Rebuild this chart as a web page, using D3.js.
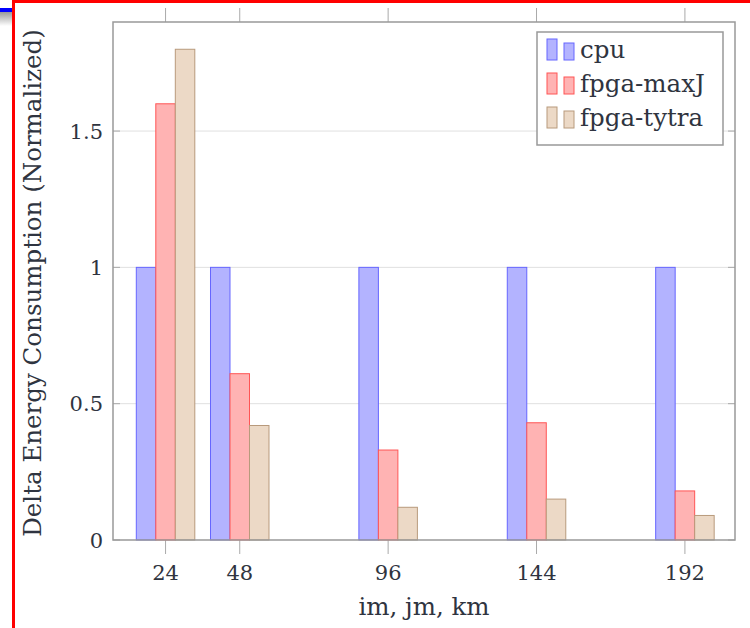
<!DOCTYPE html>
<html>
<head>
<meta charset="utf-8">
<script src="https://cdn.jsdelivr.net/npm/d3@7"></script>
<style>
  body { margin: 0; background: #fff; }
  text { font-family: "DejaVu Serif", serif; fill: #2f3440; }
</style>
</head>
<body>
<script>
// data
const sizes = [24, 48, 96, 144, 192];
const cpu = [1, 1, 1, 1, 1];
const maxJ = [1.6, 0.61, 0.33, 0.43, 0.18];
const tytra = [1.8, 0.42, 0.12, 0.15, 0.09];
const seriesNames = ["cpu", "fpga-maxJ", "fpga-tytra"];
const yTicks = [0, 0.5, 1, 1.5];
const yTickLabels = ["0", "0.5", "1", "1.5"];

const width = 750, height = 628;
const margin = {top: 22, right: 15, bottom: 88, left: 113};

const svg = d3.select("body").append("svg")
  .attr("width", width)
  .attr("height", height);

// screenshot border bits
svg.append("rect").attr("x", 12).attr("y", 0).attr("width", 3).attr("height", height).attr("fill", "#f00");
svg.append("rect").attr("x", 12).attr("y", 0).attr("width", width - 12).attr("height", 3).attr("fill", "#f00");
const grad = svg.append("defs").append("linearGradient").attr("id", "shade")
  .attr("x1", 0).attr("y1", 0).attr("x2", 0).attr("y2", 1);
grad.append("stop").attr("offset", 0).attr("stop-color", "#999");
grad.append("stop").attr("offset", 1).attr("stop-color", "#fff");
svg.append("rect").attr("x", 0).attr("y", 12).attr("width", 12).attr("height", 14).attr("fill", "url(#shade)");
svg.append("rect").attr("x", 0).attr("y", 8).attr("width", 12).attr("height", 4).attr("fill", "#00f");

const x = d3.scaleLinear()
  .domain([7, 208.2])
  .range([margin.left, width - margin.right]);

const y = d3.scaleLinear()
  .domain([0, 1.9])
  .range([height - margin.bottom, margin.top]);

const barW = 19.5;
const colors = [
  {fill: "#b3b3ff", stroke: "#6666ff"},
  {fill: "#ffb3b3", stroke: "#ff5555"},
  {fill: "#ecd9c6", stroke: "#b89a7c"}
];
const allSeries = [cpu, maxJ, tytra];

// grid
svg.append("g")
  .selectAll("line")
  .data(yTicks.slice(1))
  .join("line")
  .attr("x1", margin.left).attr("x2", width - margin.right)
  .attr("y1", d => y(d)).attr("y2", d => y(d))
  .attr("stroke", "#e0e0e0").attr("stroke-width", 1);

// y ticks inside both sides
const yt = svg.append("g");
yt.selectAll(".tl").data(yTicks).join("line")
  .attr("x1", margin.left).attr("x2", margin.left + 7)
  .attr("y1", d => y(d)).attr("y2", d => y(d))
  .attr("stroke", "#aaa");
yt.selectAll(".tr").data(yTicks).join("line")
  .attr("x1", width - margin.right - 7).attr("x2", width - margin.right)
  .attr("y1", d => y(d)).attr("y2", d => y(d))
  .attr("stroke", "#aaa");
yt.selectAll("text").data(yTicks).join("text")
  .attr("x", margin.left - 10)
  .attr("y", d => y(d))
  .attr("dy", "0.36em")
  .attr("text-anchor", "end")
  .attr("font-size", 21)
  .text((d, i) => yTickLabels[i]);

// x ticks outside top and bottom
const xt = svg.append("g");
xt.selectAll(".b").data(sizes).join("line")
  .attr("x1", d => x(d)).attr("x2", d => x(d))
  .attr("y1", y(0)).attr("y2", y(0) + 14)
  .attr("stroke", "#aaa");
xt.selectAll(".t").data(sizes).join("line")
  .attr("x1", d => x(d)).attr("x2", d => x(d))
  .attr("y1", margin.top - 14).attr("y2", margin.top)
  .attr("stroke", "#aaa");
xt.selectAll("text").data(sizes).join("text")
  .attr("x", d => x(d))
  .attr("y", y(0) + 40)
  .attr("text-anchor", "middle")
  .attr("font-size", 21)
  .text(d => d);

// bars
allSeries.forEach(function(vals, s) {
  svg.append("g")
    .selectAll("rect")
    .data(vals)
    .join("rect")
    .attr("x", (d, i) => x(sizes[i]) + (s - 1) * barW - barW / 2)
    .attr("y", d => y(d))
    .attr("width", barW)
    .attr("height", d => y(0) - y(d))
    .attr("fill", colors[s].fill)
    .attr("stroke", colors[s].stroke)
    .attr("stroke-width", 1);
});

// frame
svg.append("rect")
  .attr("x", margin.left).attr("y", margin.top)
  .attr("width", width - margin.right - margin.left)
  .attr("height", y(0) - margin.top)
  .attr("fill", "none")
  .attr("stroke", "#999")
  .attr("stroke-width", 1.5);

// axis labels
svg.append("text")
  .attr("x", (margin.left + width - margin.right) / 2)
  .attr("y", 615)
  .attr("text-anchor", "middle")
  .attr("font-size", 24.5)
  .text("im, jm, km");

svg.append("text")
  .attr("transform", "translate(41," + ((margin.top + y(0)) / 2 + 2) + ") rotate(-90)")
  .attr("text-anchor", "middle")
  .attr("font-size", 24.5)
  .text("Delta Energy Consumption (Normalized)");

// legend
const lg = svg.append("g").attr("transform", "translate(537,32)");
lg.append("rect")
  .attr("width", 186).attr("height", 113)
  .attr("fill", "#fff")
  .attr("stroke", "#999")
  .attr("stroke-width", 1.5);
seriesNames.forEach(function(name, i) {
  const row = lg.append("g").attr("transform", "translate(0," + (i * 34) + ")");
  row.append("rect").attr("x", 10).attr("y", 7).attr("width", 10).attr("height", 21)
    .attr("fill", colors[i].fill).attr("stroke", colors[i].stroke);
  row.append("rect").attr("x", 27).attr("y", 11).attr("width", 10).attr("height", 17)
    .attr("fill", colors[i].fill).attr("stroke", colors[i].stroke);
  row.append("text").attr("x", 43).attr("y", 26)
    .attr("font-size", 24.5)
    .text(name);
});
</script>
</body>
</html>
